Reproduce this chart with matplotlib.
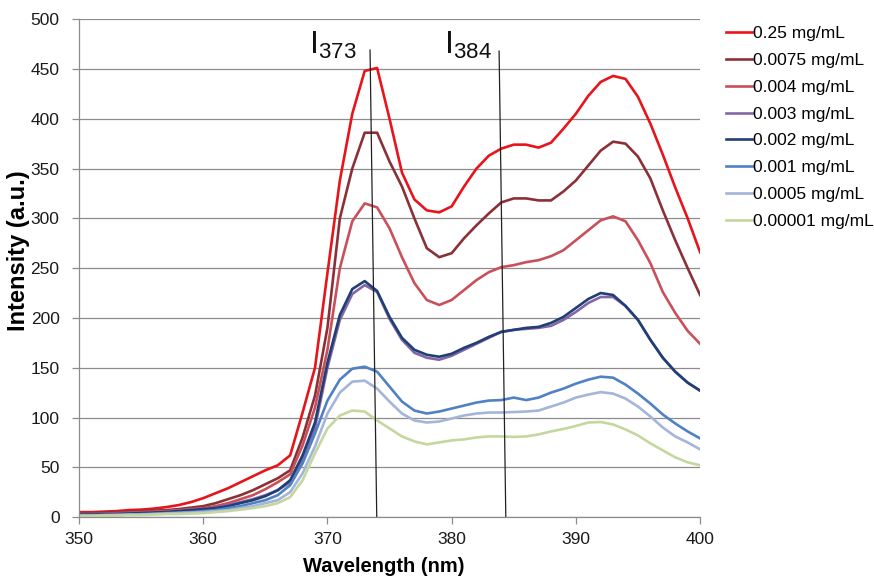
import numpy as np
import matplotlib
matplotlib.use("Agg")
import matplotlib.pyplot as plt

plt.rcParams['font.family'] = ['Liberation Sans', 'DejaVu Sans']
plt.rcParams['mathtext.default'] = 'regular'

# wavelength grid (nm)
wavelength = list(range(350, 401))

# intensities, one value per nm (350 ... 400)
c_025 = [5, 5, 5.5, 6, 7, 7.5, 8.5, 10, 12, 15,
         19, 24, 29, 35, 41, 47, 52, 62, 105, 150,
         245, 338, 405, 448, 451, 400, 346, 319, 308, 306,
         312, 332, 350, 363, 370, 374, 374, 371, 376, 390,
         405, 423, 437, 443, 440, 422, 395, 364, 331, 300,
         266]
c_0075 = [4, 4, 4.5, 5, 5.5, 6, 6.5, 7, 8, 9.5,
          11, 14, 18, 22, 27, 33, 39, 47, 80, 122,
          190, 300, 350, 386, 386, 357, 332, 300, 270, 261,
          265, 280, 293, 305, 316, 320, 320, 318, 318, 327,
          338, 353, 368, 377, 375, 362, 340, 308, 278, 250,
          223]
c_004 = [3, 3, 3.5, 4, 4.5, 5, 5.5, 6, 7, 8,
         9, 11, 14, 18, 22, 28, 35, 43, 72, 110,
         168, 250, 297, 315, 311, 290, 261, 235, 218, 213,
         218, 228, 238, 246, 251, 253, 256, 258, 262, 268,
         278, 288, 298, 302, 297, 278, 255, 226, 205, 187,
         174]
c_003 = [2.5, 2.5, 3, 3, 3.5, 4, 4.5, 5, 6, 7,
         8, 9.5, 12, 15, 18, 22, 27, 35, 58, 90,
         150, 198, 224, 233, 226, 199, 178, 165, 160, 158,
         162, 168, 174, 180, 186, 188, 189, 190, 192, 198,
         206, 215, 221, 221, 212, 198, 178, 160, 146, 135,
         127]
c_002 = [2.5, 2.5, 3, 3, 3.5, 4, 4.5, 5, 6, 7,
         8, 9, 11, 14, 17, 21, 27, 37, 62, 95,
         155, 203, 229, 237, 227, 201, 180, 168, 163, 161,
         164, 170, 175, 181, 186, 188, 190, 191, 195, 201,
         210, 219, 225, 223, 212, 198, 178, 160, 146, 135,
         127]
c_001 = [2, 2, 2, 2.5, 2.5, 3, 3.5, 4, 4.5, 5,
         6, 7, 9, 11, 14, 17, 22, 32, 54, 84,
         117, 138, 149, 151, 146, 131, 116, 107, 104, 106,
         109, 112, 115, 117, 117.5, 120, 117.5, 120, 125, 129,
         134, 138, 141, 140, 133, 124, 114, 103, 94, 86,
         79]
c_0005 = [1.5, 1.5, 2, 2, 2.5, 2.5, 3, 3.5, 4, 4.5,
          5, 6, 7, 9, 11, 14, 17, 25, 44, 71,
          104, 125, 136, 137, 129, 116, 104, 97, 95, 96,
          99, 102, 104, 105, 105, 105.5, 106, 107, 111, 115,
          120, 123, 125.5, 124, 119, 111, 101, 90, 81, 75,
          68]
c_00001 = [1, 1, 1.5, 1.5, 2, 2, 2.5, 3, 3, 3.5,
           4, 5, 6, 7.5, 9, 11, 14, 20, 37, 64,
           89, 102, 107, 106, 97, 89, 81, 76, 73, 75,
           77, 78, 80, 81, 81, 80.5, 81, 83, 86, 88.5,
           91.5, 95, 95.5, 93, 88, 82, 74, 67, 60, 55,
           52]

series = [c_025, c_0075, c_004, c_003, c_002, c_001, c_0005, c_00001]
labels = ['0.25 mg/mL', '0.0075 mg/mL', '0.004 mg/mL', '0.003 mg/mL',
          '0.002 mg/mL', '0.001 mg/mL', '0.0005 mg/mL', '0.00001 mg/mL']
colors = ['#E8141C', '#8C3038', '#C9505A', '#8466A8',
          '#1F3F75', '#4F81C4', '#A5B4D9', '#C4D79E']

# marker lines for the two bands: (top x, top y) -> (bottom x, bottom y)
band_names = ['373', '384']
band_x_top = [373.43, 383.82]
band_x_bot = [373.97, 384.36]
band_y_top = [469, 468]
band_label_x = [368.55, 379.4]

fig = plt.figure(figsize=(8.74, 5.81), dpi=100)
ax = fig.add_axes([0.0904, 0.110, 0.7106, 0.857])

for y, lab, col in zip(series, labels, colors):
    ax.plot(wavelength, y, color=col, lw=1.9, label=lab, solid_joinstyle='round')

for i in range(len(band_names)):
    ax.plot([band_x_top[i], band_x_bot[i]], [band_y_top[i], 0], color='#222222', lw=0.9,
            clip_on=False)
    ax.text(band_label_x[i], 465, 'I$_{' + band_names[i] + '}$', fontsize=23,
            ha='left', va='baseline', color='#111111')

ax.set_xlim(350, 400)
ax.set_ylim(0, 500)
ax.set_xticks(range(350, 401, 10))
ax.set_yticks(range(0, 501, 50))
ax.grid(axis='y', color='#8c8c8c', lw=0.9)
ax.set_axisbelow(True)
for s in ['top', 'right']:
    ax.spines[s].set_visible(False)
for s in ['left', 'bottom']:
    ax.spines[s].set_color('#8c8c8c')
    ax.spines[s].set_linewidth(0.9)
ax.tick_params(axis='both', colors='#8c8c8c', labelcolor='#1a1a1a', labelsize=12.5,
               length=5, width=0.9, direction='out')
ax.tick_params(axis='x', pad=6)
ax.tick_params(axis='y', pad=9)

ax.set_xlabel('Wavelength (nm)', fontsize=14.5, fontweight='bold')
ax.xaxis.set_label_coords(0.49, -0.08)
ax.set_ylabel('Intensity (a.u.)', fontsize=17, fontweight='bold', va='center')
ax.yaxis.set_label_coords(-0.098, 0.535)

ax.legend(loc='upper left', bbox_to_anchor=(0.8227, 0.967), bbox_transform=fig.transFigure,
          frameon=False, fontsize=12.5, handlelength=1.5, handletextpad=0.05,
          labelspacing=0.67, borderaxespad=0)

fig.savefig('out.png', dpi=100)
